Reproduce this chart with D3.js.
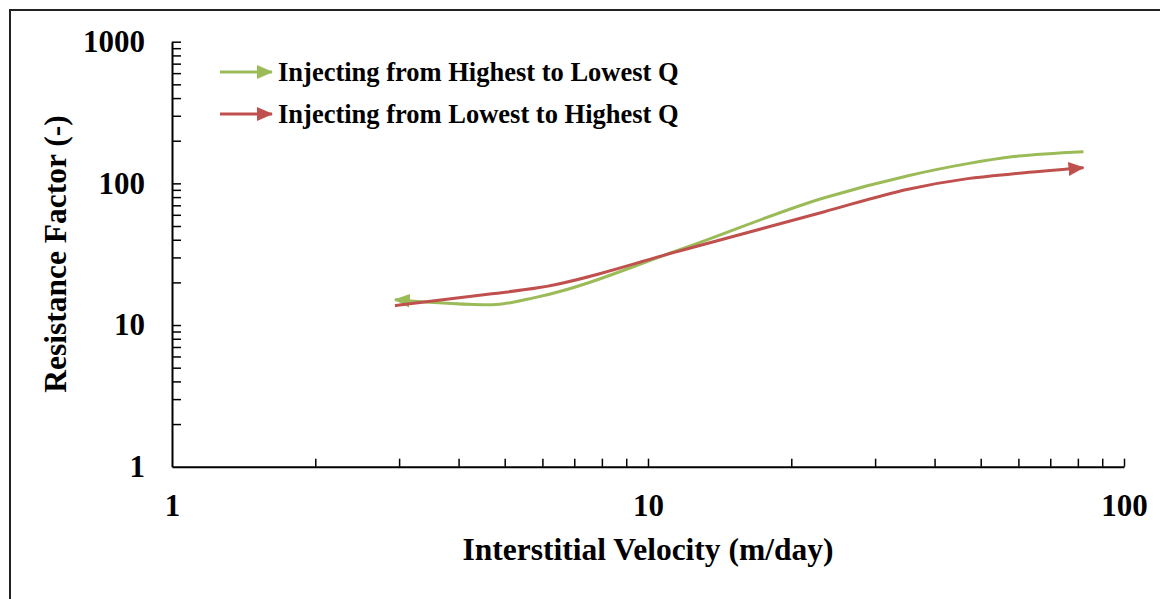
<!DOCTYPE html>
<html lang="en">
<head>
<meta charset="UTF-8">
<title>Resistance Factor vs Interstitial Velocity</title>
<script src="https://d3js.org/d3.v7.min.js"></script>
<style>
    body { margin: 0; background: #ffffff; }
    svg text { font-family: "Liberation Serif", "Times New Roman", serif; font-weight: bold; fill: #000; }
</style>
</head>
<body>
<svg id="chart" width="1160" height="599"></svg>
<script>
// series (in injection order)
const seriesNames = ["Injecting from Highest to Lowest Q", "Injecting from Lowest to Highest Q"];
const highToLowVel = [82.2, 58.7, 46.96, 35.2, 23.48, 11.74, 5.87, 4.7, 2.94];
const highToLowRF = [167.5, 154.5, 137.8, 113.3, 79.2, 34.3, 15.8, 13.9, 15.1];
const lowToHighVel = [2.94, 4.7, 5.87, 11.74, 23.48, 35.2, 46.96, 58.7, 82.2];
const lowToHighRF = [13.7, 16.6, 18.3, 33.6, 63.1, 91, 108, 117, 129];
const xTicks = [1, 10, 100];
const yTicks = [1, 10, 100, 1000];
const colors = ["#9BBB59", "#C0504D"];

const svg = d3.select("#chart");

// outer frame (runs off the right and bottom edge)
svg.append("rect")
    .attr("x", 10).attr("y", 10)
    .attr("width", 1170).attr("height", 620)
    .attr("fill", "none")
    .attr("stroke", "#222")
    .attr("stroke-width", 2);

const x = d3.scaleLog().domain([1, 100]).range([172, 1124]);
const y = d3.scaleLog().domain([1, 1000]).range([466.7, 41.7]);

// all decade ticks incl. minors
function logTicks(lo, hi) {
    const out = [];
    for (let d = lo; d < hi; d *= 10)
        for (let k = 1; k < 10; k++) out.push(d * k);
    out.push(hi);
    return out;
}

const xAxis = svg.append("g")
    .attr("transform", "translate(0,466.7)")
    .call(d3.axisBottom(x).tickValues(logTicks(1, 100)).tickFormat(d => xTicks.includes(d) ? d : "")
        .tickSize(-8).tickSizeOuter(0).tickPadding(27));

const yAxis = svg.append("g")
    .attr("transform", "translate(172,0)")
    .call(d3.axisLeft(y).tickValues(logTicks(1, 1000)).tickFormat(d => yTicks.includes(d) ? d : "")
        .tickSize(-9).tickSizeOuter(0).tickPadding(27));

[xAxis, yAxis].forEach(a => {
    a.select(".domain").attr("stroke", "#000").attr("stroke-width", 2);
    a.selectAll(".tick line").attr("stroke", "#000").attr("stroke-width", 1.5);
    a.selectAll(".tick text").style("font-size", "31px");
});
// no tick mark at the origin
xAxis.selectAll(".tick").filter(d => d === 1).select("line").remove();
yAxis.selectAll(".tick").filter(d => d === 1).select("line").remove();

// axis titles
svg.append("text")
    .attr("x", 648).attr("y", 560)
    .attr("text-anchor", "middle")
    .style("font-size", "31.5px")
    .text("Interstitial Velocity (m/day)");

svg.append("text")
    .attr("transform", "translate(66,254) rotate(-90)")
    .attr("text-anchor", "middle")
    .style("font-size", "31.5px")
    .text("Resistance Factor (-)");

// arrow markers
const defs = svg.append("defs");
colors.forEach((c, i) => {
    defs.append("marker")
        .attr("id", "arrow" + i)
        .attr("markerUnits", "userSpaceOnUse")
        .attr("viewBox", "0 0 16 14")
        .attr("refX", 15).attr("refY", 7)
        .attr("markerWidth", 16).attr("markerHeight", 14)
        .attr("orient", "auto-start-reverse")
        .append("path")
        .attr("d", "M0,0 L16,7 L0,14 Z")
        .attr("fill", c);
});

const line = d3.line()
    .x(d => x(d[0]))
    .y(d => y(d[1]))
    .curve(d3.curveMonotoneX);

// draw left to right; arrow sits on the last injected point
const series = [
    { pts: d3.zip(highToLowVel, highToLowRF).reverse(), marker: "marker-start" },
    { pts: d3.zip(lowToHighVel, lowToHighRF), marker: "marker-end" }
];

series.forEach((s, i) => {
    svg.append("path")
        .datum(s.pts)
        .attr("d", line)
        .attr("fill", "none")
        .attr("stroke", colors[i])
        .attr("stroke-width", 3)
        .attr(s.marker, `url(#arrow${i})`);
});

// legend
const legendY = [72, 114];
seriesNames.forEach((name, i) => {
    svg.append("line")
        .attr("x1", 220).attr("x2", 272)
        .attr("y1", legendY[i]).attr("y2", legendY[i])
        .attr("stroke", colors[i])
        .attr("stroke-width", 3)
        .attr("marker-end", `url(#arrow${i})`);
    svg.append("text")
        .attr("x", 278).attr("y", legendY[i] + 9)
        .style("font-size", "26.5px")
        .text(name);
});
</script>
</body>
</html>
